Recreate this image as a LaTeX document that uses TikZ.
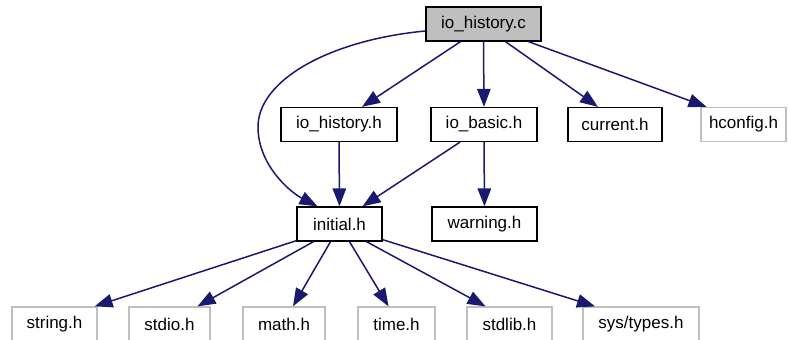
\documentclass[tikz,border=0pt]{standalone}
\usepackage{fontspec}
\setmainfont{Liberation Sans}
\usetikzlibrary{arrows.meta}
\definecolor{edgeblue}{HTML}{191970}
\definecolor{extgray}{HTML}{BFBFBF}
\begin{document}
\begin{tikzpicture}[x=1pt,y=-1pt,
  filebox/.style={draw=black, line width=1.3pt, minimum height=34pt, inner sep=0pt,
                  font=\fontsize{17}{20}\selectfont},
  extbox/.style={filebox, draw=extgray},
  mainbox/.style={filebox, fill=extgray},
  dep/.style={draw=edgeblue, line width=1.5pt,
              -{Triangle[length=18pt,width=13.5pt]}}]
\useasboundingbox (0,0) rectangle (788,340);

% file nodes
\node[mainbox, minimum width=115pt] (src) at (483.5,24) {io\_history.c};
\node[filebox, minimum width=116pt] (ioh) at (339,124.5) {io\_history.h};
\node[filebox, minimum width=106pt] (iob) at (484,124.5) {io\_basic.h};
\node[filebox, minimum width=94pt]  (cur) at (615,124.5) {current.h};
\node[extbox,  minimum width=85pt]  (hcf) at (743.5,124.5) {hconfig.h};
\node[filebox, minimum width=85pt]  (ini) at (339.5,224) {initial.h};
\node[filebox, minimum width=105pt] (war) at (484.5,224) {warning.h};
\node[extbox, minimum width=85pt]  (str) at (54.5,324) {string.h};
\node[extbox, minimum width=81pt]  (sio) at (169.5,324) {stdio.h};
\node[extbox, minimum width=82pt]  (mat) at (284,324) {math.h};
\node[extbox, minimum width=77pt]  (tim) at (396.5,324) {time.h};
\node[extbox, minimum width=85pt]  (stl) at (509.5,324) {stdlib.h};
\node[extbox, minimum width=116pt] (sty) at (641,324) {sys/types.h};

% includes of io_history.c
\draw[dep] ([xshift=-23pt]src.south) -- ([xshift=23pt]ioh.north);
\draw[dep] (src.south) -- (iob.north);
\draw[dep] ([xshift=22pt]src.south) -- ([xshift=-17pt]cur.north);
\draw[dep] ([xshift=45pt]src.south) -- ([xshift=-37pt]hcf.north);
\draw[dep] ([yshift=-7pt]src.west) .. controls (330,40) and (258,80) .. (258,127)
           .. controls (258,165) and (290,192) .. ([xshift=-22pt]ini.north);

% second level
\draw[dep] (ioh.south) -- (ini.north);
\draw[dep] ([xshift=-24pt]iob.south) -- ([xshift=23pt]ini.north);
\draw[dep] (iob.south) -- (war.north);

% includes of initial.h
\draw[dep] ([yshift=1pt]ini.south west) -- ([xshift=-3pt]str.north east);
\draw[dep] ([xshift=-26pt]ini.south) -- ([xshift=28pt]sio.north);
\draw[dep] ([xshift=-9pt]ini.south) -- ([xshift=9pt]mat.north);
\draw[dep] ([xshift=10pt]ini.south) -- ([xshift=-8pt]tim.north);
\draw[dep] ([xshift=27pt]ini.south) -- ([xshift=-24pt]stl.north);
\draw[dep] ([yshift=2pt]ini.south east) -- ([xshift=-46pt]sty.north);
\end{tikzpicture}
\end{document}
